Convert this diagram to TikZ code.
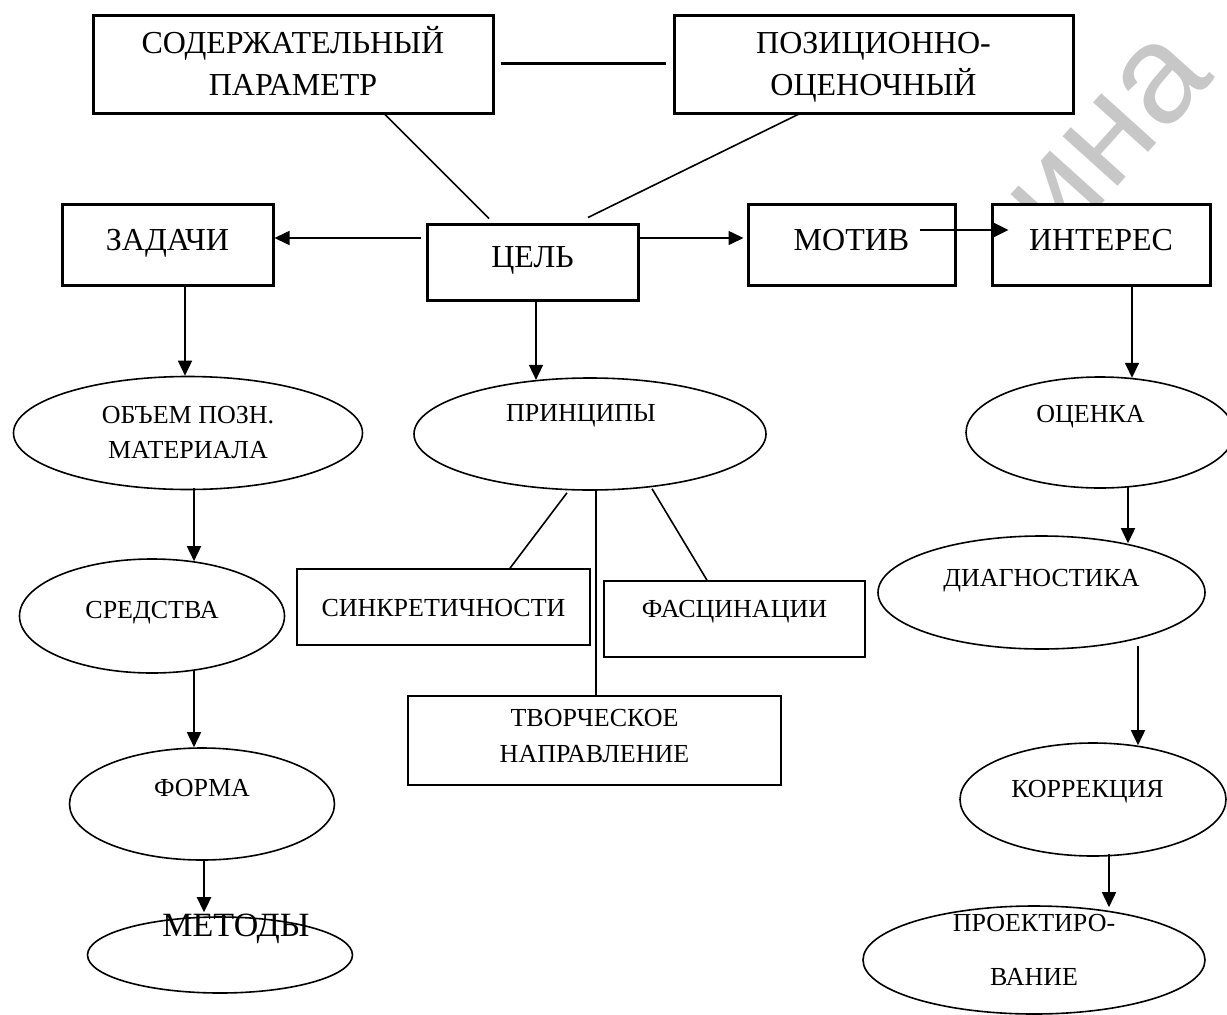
\documentclass[tikz,border=0pt]{standalone}
\usepackage{fontspec}
\setmainfont{Liberation Serif}
\setsansfont{Liberation Sans}
\usetikzlibrary{arrows.meta,shapes.geometric,calc}
\newcommand\rbx[2]{\raisebox{#1}[0pt][0pt]{#2}}
\newcommand\twol[2]{\begin{tabular}[b]{@{}c@{}}#1\\#2\end{tabular}}
\tikzset{
  thickbox/.style={draw, line width=3pt, rectangle, inner sep=0pt, fill=white, font=\fontsize{32}{42}\selectfont},
  thinbox/.style={draw, line width=1.6pt, rectangle, inner sep=0pt, fill=white, font=\fontsize{26}{36}\selectfont},
  ell/.style={draw, line width=1.6pt, ellipse, inner sep=0pt, fill=white, font=\fontsize{26}{35}\selectfont},
  conn/.style={line width=1.6pt},
  connthick/.style={line width=3pt},
  arr/.style={line width=1.6pt, -{Triangle[length=15pt,width=14pt]}},
  arrthick/.style={line width=2.6pt, -{Triangle[length=15pt,width=14pt]}},
  wmark/.style={rotate=48, text=black!22, font=\fontsize{140}{140}\sffamily, inner sep=0pt}
}
\begin{document}
\begin{tikzpicture}[x=1pt,y=-1pt]
\useasboundingbox[fill=white] (0,0) rectangle (1227,1015);

% watermark
\node[wmark] (wm) at (1110,140) {ина};

% top boxes
\node[thickbox, minimum width=400pt, minimum height=98pt] (sod) at (293,64) {\rbx{-31.6pt}{\twol{СОДЕРЖАТЕЛЬНЫЙ}{ПАРАМЕТР}}};
\node[thickbox, minimum width=399pt, minimum height=98pt] (poz) at (873.5,64) {\rbx{-31.6pt}{\twol{ПОЗИЦИОННО-}{ОЦЕНОЧНЫЙ}}};

% second row
\node[thickbox, minimum width=211pt, minimum height=81pt] (zad) at (167.5,244.5) {\rbx{-6.1pt}{ЗАДАЧИ}};
\node[thickbox, minimum width=211pt, minimum height=76pt] (cel) at (532.5,262) {\rbx{-5pt}{ЦЕЛЬ}};
\node[thickbox, minimum width=207pt, minimum height=81pt] (mot) at (851.5,244.5) {\rbx{-6.1pt}{МОТИВ}};
\node[thickbox, minimum width=218pt, minimum height=81pt] (int) at (1101,244.5) {\rbx{-6.1pt}{ИНТЕРЕС}};

% left column
\node[ell, minimum width=349pt, minimum height=113pt] (obj) at (188,433) {\rbx{-25.6pt}{\twol{ОБЪЕМ ПОЗН.}{МАТЕРИАЛА}}};
\node[ell, minimum width=265pt, minimum height=114pt] (sred) at (152,616) {\rbx{-2.6pt}{СРЕДСТВА}};
\node[ell, minimum width=265pt, minimum height=112pt] (forma) at (202,804) {\rbx{7.4pt}{ФОРМА}};
\node[ell, minimum width=265pt, minimum height=76pt, font=\fontsize{34}{40}\selectfont] (metody) at (220,955) {\rbx{18.7pt}{\hspace*{32pt}МЕТОДЫ}};

% middle column
\node[ell, minimum width=352pt, minimum height=112pt] (prin) at (590,434) {\rbx{12.4pt}{ПРИНЦИПЫ\hspace*{18pt}}};
\node[thinbox, minimum width=293pt, minimum height=76pt] (sink) at (443.5,607) {\rbx{-9.6pt}{СИНКРЕТИЧНОСТИ}};
\node[thinbox, minimum width=261pt, minimum height=76pt] (fasc) at (734.5,619) {\rbx{1.4pt}{ФАСЦИНАЦИИ}};
\node[thinbox, minimum width=373pt, minimum height=89pt] (tvor) at (594.5,740.5) {\rbx{-22.1pt}{\twol{ТВОРЧЕСКОЕ}{НАПРАВЛЕНИЕ}}};

% right column
\node[ell, minimum width=268pt, minimum height=111pt] (ocen) at (1100,432.5) {\rbx{10pt}{ОЦЕНКА\hspace*{19pt}}};
\node[ell, minimum width=327pt, minimum height=113pt] (diag) at (1041.5,592.5) {\rbx{5.9pt}{ДИАГНОСТИКА}};
\node[ell, minimum width=266pt, minimum height=113pt] (korr) at (1093,799.5) {\rbx{1.9pt}{КОРРЕКЦИЯ\hspace*{11pt}}};
\node[ell, minimum width=342pt, minimum height=108pt, font=\fontsize{26}{54}\selectfont] (proj) at (1034,960) {\rbx{-25.6pt}{\twol{ПРОЕКТИРО-}{ВАНИЕ}}};

% plain lines
\draw[connthick] ($(sod.east)+(6,-1)$) -- ($(poz.west)+(-7,-1)$);
\draw[conn] ($(sod.south)+(91,-1)$) -- ($(cel.north)+(-43.5,-4)$);
\draw[conn] ($(poz.south)+(-73.5,-1)$) -- ($(cel.north)+(55.5,-5)$);
\draw[conn] ($(prin.south)+(-23,2)$) -- ($(sink.north)+(66.5,0)$);
\draw[conn] ($(prin.south)+(6,0)$) -- ($(tvor.north)+(1.5,0)$);
\draw[conn] ($(prin.south)+(62,-2)$) -- ($(fasc.north)+(-27.5,0)$);

% horizontal arrows
\draw[arr] ($(cel.west)+(-5,-24)$) -- ($(zad.east)+(0,-6.5)$);
\draw[arr] ($(cel.east)+(0,-24)$) -- ($(mot.west)+(-3,-6.5)$);
\draw[arrthick] ($(mot.east)+(-37,-14.5)$) -- ($(int.west)+(18,-14.5)$);

% vertical arrows
\draw[arr] ($(zad.south)+(17.5,0)$) -- ($(obj.north)+(-3,0)$);
\draw[arr] ($(obj.south)+(6,-2)$) -- ($(sred.north)+(42,3)$);
\draw[arr] ($(sred.south)+(42,-3)$) -- ($(forma.north)+(-8,0)$);
\draw[arrthick] ($(forma.south)+(2,-2)$) -- ($(metody.north)+(-16,-4)$);
\draw[arr] ($(cel.south)+(3.5,0)$) -- ($(prin.north)+(-54,2.7)$);
\draw[arr] ($(int.south)+(31,0)$) -- ($(ocen.north)+(32,1.6)$);
\draw[arr] ($(ocen.south)+(28,-1.5)$) -- ($(diag.north)+(86.5,8)$);
\draw[arr] ($(diag.south)+(96.5,-4)$) -- ($(korr.north)+(45,3)$);
\draw[arr] ($(korr.south)+(16,-3)$) -- ($(proj.north)+(75,2)$);
\end{tikzpicture}
\end{document}
